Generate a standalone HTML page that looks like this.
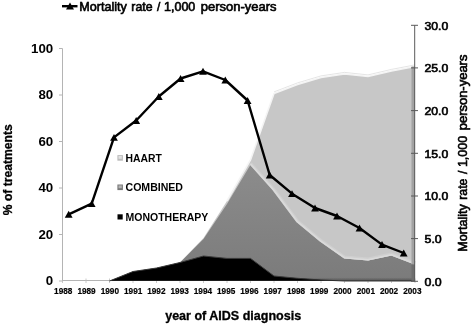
<!DOCTYPE html>
<html><head><meta charset="utf-8"><title>Chart</title>
<style>
html,body{margin:0;padding:0;background:#fff;}
body{width:472px;height:324px;overflow:hidden;}
svg{display:block;font-family:"Liberation Sans",Arial,sans-serif;}
</style></head><body>
<svg width="472" height="324" viewBox="0 0 472 324">
<defs><linearGradient id="gc" x1="0" y1="165" x2="0" y2="281" gradientUnits="userSpaceOnUse"><stop offset="0" stop-color="#8c8c8c"/><stop offset="1" stop-color="#7b7b7b"/></linearGradient><linearGradient id="gb" x1="0" y1="277.3" x2="0" y2="281" gradientUnits="userSpaceOnUse"><stop offset="0" stop-color="#000" stop-opacity="0"/><stop offset="1" stop-color="#000" stop-opacity="0.32"/></linearGradient></defs>
<rect width="472" height="324" fill="#fff"/>

<line x1="62.5" y1="280.5" x2="415" y2="280.5" stroke="#b4b4b4" stroke-width="1"/>
<line x1="62.5" y1="278.5" x2="62.5" y2="283" stroke="#bdbdbd" stroke-width="0.8"/>
<line x1="86.0" y1="278.5" x2="86.0" y2="283" stroke="#bdbdbd" stroke-width="0.8"/>
<line x1="109.5" y1="278.5" x2="109.5" y2="283" stroke="#bdbdbd" stroke-width="0.8"/>
<line x1="133.0" y1="278.5" x2="133.0" y2="283" stroke="#bdbdbd" stroke-width="0.8"/>
<line x1="156.5" y1="278.5" x2="156.5" y2="283" stroke="#bdbdbd" stroke-width="0.8"/>
<line x1="180.0" y1="278.5" x2="180.0" y2="283" stroke="#bdbdbd" stroke-width="0.8"/>
<line x1="203.5" y1="278.5" x2="203.5" y2="283" stroke="#bdbdbd" stroke-width="0.8"/>
<line x1="227.0" y1="278.5" x2="227.0" y2="283" stroke="#bdbdbd" stroke-width="0.8"/>
<line x1="250.5" y1="278.5" x2="250.5" y2="283" stroke="#bdbdbd" stroke-width="0.8"/>
<line x1="274.0" y1="278.5" x2="274.0" y2="283" stroke="#bdbdbd" stroke-width="0.8"/>
<line x1="297.5" y1="278.5" x2="297.5" y2="283" stroke="#bdbdbd" stroke-width="0.8"/>
<line x1="321.0" y1="278.5" x2="321.0" y2="283" stroke="#bdbdbd" stroke-width="0.8"/>
<line x1="344.5" y1="278.5" x2="344.5" y2="283" stroke="#bdbdbd" stroke-width="0.8"/>
<line x1="368.0" y1="278.5" x2="368.0" y2="283" stroke="#bdbdbd" stroke-width="0.8"/>
<line x1="391.5" y1="278.5" x2="391.5" y2="283" stroke="#bdbdbd" stroke-width="0.8"/>
<line x1="415.0" y1="278.5" x2="415.0" y2="283" stroke="#bdbdbd" stroke-width="0.8"/>
<polygon points="109.5,281.0 133.0,271.5 156.5,268.0 180.0,262.5 203.5,238.0 227.0,201.0 250.5,160.0 274.0,93.5 297.5,84.5 321.0,77.5 344.5,74.0 368.0,76.5 391.5,71.0 415.0,66.5 415.0,280.8 109.5,280.8" fill="#c7c7c7"/>
<polyline points="274.0,93.5 297.5,84.5 321.0,77.5 344.5,74.0 368.0,76.5 391.5,71.0 415.0,66.5" fill="none" stroke="#dedede" stroke-width="0.8" transform="translate(0,-1.6)"/>
<polyline points="227.0,201.0 250.5,160.0 274.0,93.5 297.5,84.5 321.0,77.5 344.5,74.0 368.0,76.5 391.5,71.0 415.0,66.5" fill="none" stroke="#f4f4f4" stroke-width="1.6"/>
<polygon points="109.5,281.0 133.0,271.5 156.5,268.0 180.0,262.5 203.5,239.0 227.0,204.0 250.5,164.8 274.0,191.0 297.5,222.5 321.0,242.0 344.5,258.5 368.0,260.5 391.5,255.5 415.0,264.5 415.0,280.8 109.5,280.8" fill="url(#gc)"/>
<polyline points="250.5,164.8 274.0,191.0 297.5,222.5 321.0,242.0 344.5,258.5 368.0,260.5 391.5,255.5 415.0,264.5" fill="none" stroke="#cfcfcf" stroke-width="3.2" stroke-linejoin="round" transform="translate(0,-1.5)"/>
<polyline points="250.5,164.8 274.0,191.0 297.5,222.5 321.0,242.0 344.5,258.5 368.0,260.5 391.5,255.5 415.0,264.5" fill="none" stroke="#dadada" stroke-width="1.6" stroke-linejoin="round" transform="translate(0,-0.8)"/>
<polygon points="109.5,281.0 133.0,271.5 156.5,268.0 180.0,262.5 203.5,256.0 227.0,258.4 250.5,258.4 274.0,276.0 297.5,278.3 321.0,280.0 344.5,281.0 368.0,281.0 391.5,281.0 415.0,281.0 415.0,280.8 109.5,280.8" fill="#000"/>
<polyline points="109.5,281.0 133.0,271.5 156.5,268.0 180.0,262.5 203.5,256.0 227.0,258.4 250.5,258.4 274.0,276.0 297.5,278.3 321.0,280.0 344.5,281.0 368.0,281.0 391.5,281.0 415.0,281.0" fill="none" stroke="#3a3a3a" stroke-width="1"/>
<clipPath id="cc"><polygon points="109.5,281.0 133.0,271.5 156.5,268.0 180.0,262.5 203.5,239.0 227.0,204.0 250.5,164.8 274.0,191.0 297.5,222.5 321.0,242.0 344.5,258.5 368.0,260.5 391.5,255.5 415.0,264.5 415.0,280.8 109.5,280.8"/></clipPath>
<rect x="100" y="277.3" width="316" height="3.7" fill="url(#gb)" clip-path="url(#cc)"/>
<rect x="411.5" y="66.5" width="3.5" height="198.0" fill="#a2a2a2"/>
<rect x="411.5" y="264.5" width="3.5" height="16.30000000000001" fill="#6e6e6e"/>
<line x1="62.5" y1="48.5" x2="62.5" y2="281" stroke="#b4b4b4" stroke-width="1"/>
<line x1="59" y1="281.0" x2="62.5" y2="281.0" stroke="#b4b4b4" stroke-width="1"/>
<text x="45.8" y="285.3" font-size="12" font-weight="bold" textLength="7.4" lengthAdjust="spacingAndGlyphs" fill="#000">0</text>
<line x1="59" y1="234.5" x2="62.5" y2="234.5" stroke="#b4b4b4" stroke-width="1"/>
<text x="38.4" y="238.8" font-size="12" font-weight="bold" textLength="14.8" lengthAdjust="spacingAndGlyphs" fill="#000">20</text>
<line x1="59" y1="188.0" x2="62.5" y2="188.0" stroke="#b4b4b4" stroke-width="1"/>
<text x="38.4" y="192.3" font-size="12" font-weight="bold" textLength="14.8" lengthAdjust="spacingAndGlyphs" fill="#000">40</text>
<line x1="59" y1="141.5" x2="62.5" y2="141.5" stroke="#b4b4b4" stroke-width="1"/>
<text x="38.4" y="145.8" font-size="12" font-weight="bold" textLength="14.8" lengthAdjust="spacingAndGlyphs" fill="#000">60</text>
<line x1="59" y1="95.0" x2="62.5" y2="95.0" stroke="#b4b4b4" stroke-width="1"/>
<text x="38.4" y="99.3" font-size="12" font-weight="bold" textLength="14.8" lengthAdjust="spacingAndGlyphs" fill="#000">80</text>
<line x1="59" y1="48.5" x2="62.5" y2="48.5" stroke="#b4b4b4" stroke-width="1"/>
<text x="31.0" y="52.8" font-size="12" font-weight="bold" textLength="22.2" lengthAdjust="spacingAndGlyphs" fill="#000">100</text>
<text x="54.1" y="294" font-size="9.6" font-weight="bold" stroke="#000" stroke-width="0.2" textLength="18.3" lengthAdjust="spacingAndGlyphs" fill="#000">1988</text>
<text x="77.4" y="294" font-size="9.6" font-weight="bold" stroke="#000" stroke-width="0.2" textLength="18.3" lengthAdjust="spacingAndGlyphs" fill="#000">1989</text>
<text x="100.7" y="294" font-size="9.6" font-weight="bold" stroke="#000" stroke-width="0.2" textLength="18.3" lengthAdjust="spacingAndGlyphs" fill="#000">1990</text>
<text x="124.0" y="294" font-size="9.6" font-weight="bold" stroke="#000" stroke-width="0.2" textLength="18.3" lengthAdjust="spacingAndGlyphs" fill="#000">1991</text>
<text x="147.2" y="294" font-size="9.6" font-weight="bold" stroke="#000" stroke-width="0.2" textLength="18.3" lengthAdjust="spacingAndGlyphs" fill="#000">1992</text>
<text x="170.5" y="294" font-size="9.6" font-weight="bold" stroke="#000" stroke-width="0.2" textLength="18.3" lengthAdjust="spacingAndGlyphs" fill="#000">1993</text>
<text x="193.8" y="294" font-size="9.6" font-weight="bold" stroke="#000" stroke-width="0.2" textLength="18.3" lengthAdjust="spacingAndGlyphs" fill="#000">1994</text>
<text x="217.0" y="294" font-size="9.6" font-weight="bold" stroke="#000" stroke-width="0.2" textLength="18.3" lengthAdjust="spacingAndGlyphs" fill="#000">1995</text>
<text x="240.3" y="294" font-size="9.6" font-weight="bold" stroke="#000" stroke-width="0.2" textLength="18.3" lengthAdjust="spacingAndGlyphs" fill="#000">1996</text>
<text x="263.6" y="294" font-size="9.6" font-weight="bold" stroke="#000" stroke-width="0.2" textLength="18.3" lengthAdjust="spacingAndGlyphs" fill="#000">1997</text>
<text x="286.9" y="294" font-size="9.6" font-weight="bold" stroke="#000" stroke-width="0.2" textLength="18.3" lengthAdjust="spacingAndGlyphs" fill="#000">1998</text>
<text x="310.1" y="294" font-size="9.6" font-weight="bold" stroke="#000" stroke-width="0.2" textLength="18.3" lengthAdjust="spacingAndGlyphs" fill="#000">1999</text>
<text x="333.4" y="294" font-size="9.6" font-weight="bold" stroke="#000" stroke-width="0.2" textLength="18.3" lengthAdjust="spacingAndGlyphs" fill="#000">2000</text>
<text x="356.7" y="294" font-size="9.6" font-weight="bold" stroke="#000" stroke-width="0.2" textLength="18.3" lengthAdjust="spacingAndGlyphs" fill="#000">2001</text>
<text x="379.9" y="294" font-size="9.6" font-weight="bold" stroke="#000" stroke-width="0.2" textLength="18.3" lengthAdjust="spacingAndGlyphs" fill="#000">2002</text>
<text x="403.2" y="294" font-size="9.6" font-weight="bold" stroke="#000" stroke-width="0.2" textLength="18.3" lengthAdjust="spacingAndGlyphs" fill="#000">2003</text>
<line x1="414.7" y1="25.3" x2="414.7" y2="281.3" stroke="#5a5a5a" stroke-width="1"/>
<line x1="411" y1="281.3" x2="418" y2="281.3" stroke="#5a5a5a" stroke-width="1"/>
<text x="424.5" y="285.5" font-size="11" fill="#000" stroke="#000" stroke-width="0.6" textLength="17.2" lengthAdjust="spacingAndGlyphs">0.0</text>
<line x1="411" y1="238.6" x2="418" y2="238.6" stroke="#5a5a5a" stroke-width="1"/>
<text x="424.5" y="242.8" font-size="11" fill="#000" stroke="#000" stroke-width="0.6" textLength="17.2" lengthAdjust="spacingAndGlyphs">5.0</text>
<line x1="411" y1="196.0" x2="418" y2="196.0" stroke="#5a5a5a" stroke-width="1"/>
<text x="424.5" y="200.2" font-size="11" fill="#000" stroke="#000" stroke-width="0.6" textLength="23.8" lengthAdjust="spacingAndGlyphs">10.0</text>
<line x1="411" y1="153.3" x2="418" y2="153.3" stroke="#5a5a5a" stroke-width="1"/>
<text x="424.5" y="157.5" font-size="11" fill="#000" stroke="#000" stroke-width="0.6" textLength="23.8" lengthAdjust="spacingAndGlyphs">15.0</text>
<line x1="411" y1="110.6" x2="418" y2="110.6" stroke="#5a5a5a" stroke-width="1"/>
<text x="424.5" y="114.8" font-size="11" fill="#000" stroke="#000" stroke-width="0.6" textLength="23.8" lengthAdjust="spacingAndGlyphs">20.0</text>
<line x1="411" y1="67.9" x2="418" y2="67.9" stroke="#5a5a5a" stroke-width="1"/>
<text x="424.5" y="72.1" font-size="11" fill="#000" stroke="#000" stroke-width="0.6" textLength="23.8" lengthAdjust="spacingAndGlyphs">25.0</text>
<line x1="411" y1="25.3" x2="418" y2="25.3" stroke="#5a5a5a" stroke-width="1"/>
<text x="424.5" y="29.5" font-size="11" fill="#000" stroke="#000" stroke-width="0.6" textLength="23.8" lengthAdjust="spacingAndGlyphs">30.0</text>
<polyline points="68.7,214.3 91.7,203.7 114,137.4 136.2,120.5 158.8,96.5 180.6,78.5 203,71.3 225.3,80 247.6,100.5 269.7,175 292,193.7 315,208 337,216 359.5,228 382,244.6 403.7,253" fill="none" stroke="#000" stroke-width="2.4" stroke-linejoin="round"/>
<polygon points="64.8,217.7 72.6,217.7 68.7,210.8" fill="#000"/>
<polygon points="87.8,207.1 95.6,207.1 91.7,200.2" fill="#000"/>
<polygon points="110.1,140.8 117.9,140.8 114.0,133.9" fill="#000"/>
<polygon points="132.3,123.9 140.1,123.9 136.2,117.0" fill="#000"/>
<polygon points="154.9,99.9 162.7,99.9 158.8,93.0" fill="#000"/>
<polygon points="176.7,81.9 184.5,81.9 180.6,75.0" fill="#000"/>
<polygon points="199.1,74.7 206.9,74.7 203.0,67.8" fill="#000"/>
<polygon points="221.4,83.4 229.2,83.4 225.3,76.5" fill="#000"/>
<polygon points="243.7,103.9 251.5,103.9 247.6,97.0" fill="#000"/>
<polygon points="265.8,178.4 273.6,178.4 269.7,171.5" fill="#000"/>
<polygon points="288.1,197.1 295.9,197.1 292.0,190.2" fill="#000"/>
<polygon points="311.1,211.4 318.9,211.4 315.0,204.5" fill="#000"/>
<polygon points="333.1,219.4 340.9,219.4 337.0,212.5" fill="#000"/>
<polygon points="355.6,231.4 363.4,231.4 359.5,224.5" fill="#000"/>
<polygon points="378.1,248.0 385.9,248.0 382.0,241.1" fill="#000"/>
<polygon points="399.8,256.4 407.6,256.4 403.7,249.5" fill="#000"/>
<line x1="62" y1="6.2" x2="77.5" y2="6.2" stroke="#000" stroke-width="2.4"/>
<polygon points="66,9.5 74,9.5 70,2.5" fill="#000"/>
<text y="10.5" font-size="12" fill="#000" stroke="#000" stroke-width="0.6"><tspan x="79.3" textLength="47.6" lengthAdjust="spacingAndGlyphs">Mortality</tspan> <tspan x="131.3" textLength="21.2" lengthAdjust="spacingAndGlyphs">rate</tspan> <tspan x="157" textLength="3.3" lengthAdjust="spacingAndGlyphs">/</tspan> <tspan x="164" textLength="31.3" lengthAdjust="spacingAndGlyphs">1,000</tspan> <tspan x="200.8" textLength="75.7" lengthAdjust="spacingAndGlyphs">person-years</tspan></text>
<rect x="117.4" y="155.10" width="5.5" height="5.6" fill="#bcbcbc"/>
<rect x="118.5" y="156.00" width="3.3" height="2.8" fill="#e2e2e2"/>
<text x="125.5" y="161.90" font-size="10.5" font-weight="bold" fill="#000" textLength="36.3" lengthAdjust="spacingAndGlyphs">HAART</text>
<rect x="117.4" y="184.50" width="5.5" height="5.6" fill="#787878"/>
<rect x="118.5" y="185.40" width="3.3" height="2.8" fill="#b4b4b4"/>
<text x="125.5" y="191.30" font-size="10.5" font-weight="bold" fill="#000" textLength="57.5" lengthAdjust="spacingAndGlyphs">COMBINED</text>
<rect x="117.5" y="214.30" width="5.2" height="5.2" fill="#000"/>
<text x="125.5" y="220.70" font-size="10.5" font-weight="bold" fill="#000" textLength="82.8" lengthAdjust="spacingAndGlyphs">MONOTHERAPY</text>
<text x="165.2" y="319.6" font-size="12" font-weight="bold" fill="#000" stroke="#000" stroke-width="0.3" textLength="136" lengthAdjust="spacingAndGlyphs">year of AIDS diagnosis</text>
<text transform="translate(12,215.2) rotate(-90)" font-size="12" font-weight="bold" fill="#000" stroke="#000" stroke-width="0.3" textLength="91" lengthAdjust="spacingAndGlyphs">% of treatments</text>
<text transform="translate(466.7,251.8) rotate(-90)" y="0" font-size="12" fill="#000" stroke="#000" stroke-width="0.6"><tspan x="0" textLength="47.6" lengthAdjust="spacingAndGlyphs">Mortality</tspan> <tspan x="52" textLength="21.2" lengthAdjust="spacingAndGlyphs">rate</tspan> <tspan x="77.7" textLength="3.3" lengthAdjust="spacingAndGlyphs">/</tspan> <tspan x="84.7" textLength="31.3" lengthAdjust="spacingAndGlyphs">1,000</tspan> <tspan x="121.5" textLength="75.7" lengthAdjust="spacingAndGlyphs">person-years</tspan></text>
</svg></body></html>
